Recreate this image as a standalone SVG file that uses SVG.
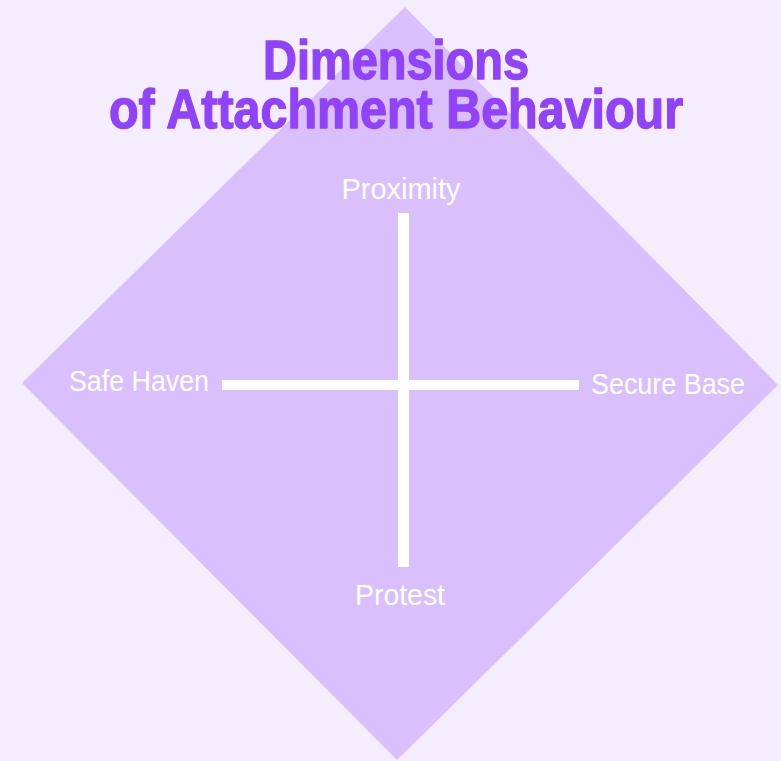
<svg xmlns="http://www.w3.org/2000/svg" width="781" height="761" viewBox="0 0 781 761">
  <style>
    .title { font-family: "Liberation Sans", Arial, sans-serif; font-weight: bold; font-size: 55px; fill: #9043fb; stroke: #9043fb; stroke-width: 1.4px; stroke-linejoin: round; }
    .label { font-family: "Liberation Sans", Arial, sans-serif; font-size: 29px; fill: #ffffff; }
  </style>
  <rect x="0" y="0" width="781" height="761" fill="#f3edfe"/>
  <g id="diamond">
    <polygon points="405,7 778,385 397,760 22,383" fill="#dabffd"/>
  </g>
  <g id="title">
    <text class="title" x="396" y="79" text-anchor="middle" textLength="266" lengthAdjust="spacingAndGlyphs">Dimensions</text>
    <text class="title" x="396" y="128" text-anchor="middle" textLength="574" lengthAdjust="spacingAndGlyphs">of Attachment Behaviour</text>
  </g>
  <g id="connectors" fill="#ffffff">
    <rect x="398" y="213" width="11" height="354"/>
    <rect x="222" y="380" width="357" height="10"/>
  </g>
  <g id="proximity">
    <text class="label" x="401" y="199" text-anchor="middle" textLength="119" lengthAdjust="spacingAndGlyphs">Proximity</text>
  </g>
  <g id="safe-haven">
    <text class="label" x="139" y="391" text-anchor="middle" textLength="140" lengthAdjust="spacingAndGlyphs">Safe Haven</text>
  </g>
  <g id="secure-base">
    <text class="label" x="668" y="394" text-anchor="middle" textLength="154" lengthAdjust="spacingAndGlyphs">Secure Base</text>
  </g>
  <g id="protest">
    <text class="label" x="400" y="605" text-anchor="middle" textLength="90" lengthAdjust="spacingAndGlyphs">Protest</text>
  </g>
</svg>
